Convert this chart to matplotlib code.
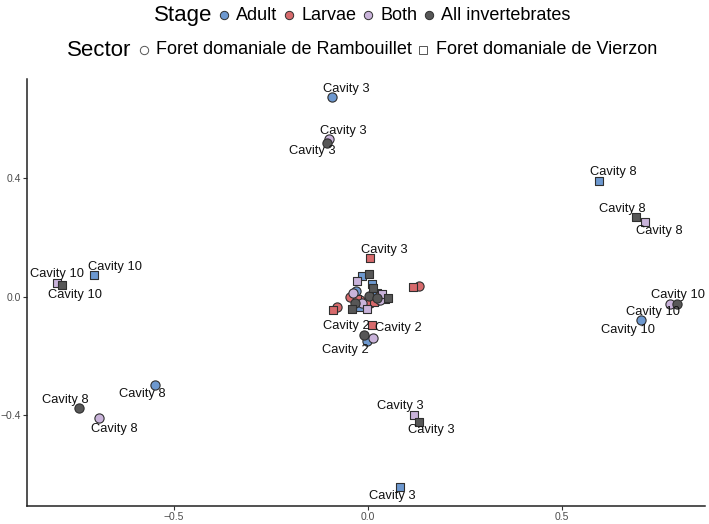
import numpy as np
import pandas as pd
import matplotlib
matplotlib.use("Agg")
from matplotlib import pyplot as plt
from matplotlib.lines import Line2D
from matplotlib.ticker import MultipleLocator

plt.rcParams['font.family'] = ['Liberation Sans', 'DejaVu Sans']

# Datos (NMDS)
stage = (["Adult"] * 15 + ["Larvae"] * 13 + ["Both"] * 13 + ["All invertebrates"] * 14)
sector = (
    # Adult
    ["R", "R", "R", "R", "R", "R", "R", "R", "V", "V", "V", "V", "V", "V", "V"]
    # Larvae
    + ["R", "R", "R", "R", "R", "R", "V", "V", "V", "V", "V", "V", "V"]
    # Both
    + ["R", "R", "R", "R", "R", "R", "R", "V", "V", "V", "V", "V", "V"]
    # All invertebrates
    + ["R", "R", "R", "R", "R", "R", "R", "V", "V", "V", "V", "V", "V", "V"]
)
nmds1 = [
    -0.092, 0.702, -0.549, -0.003, -0.042, -0.010, 0.020, -0.030,
    0.596, -0.706, 0.082, -0.016, 0.009, -0.021, 0.024,
    0.131, -0.081, -0.048, -0.020, 0.005, 0.030,
    0.005, 0.115, -0.091, 0.009, -0.029, 0.044, 0.014,
    -0.101, 0.778, -0.693, 0.012, -0.015, 0.030, -0.040,
    0.713, -0.802, 0.117, -0.029, 0.035, -0.003,
    -0.107, 0.796, -0.746, -0.010, 0.001, -0.035, 0.022,
    0.690, -0.789, 0.131, 0.003, 0.052, -0.042, 0.012,
]
nmds2 = [
    0.675, -0.077, -0.296, -0.150, 0.004, -0.030, -0.015, 0.020,
    0.390, 0.075, -0.642, 0.072, 0.044, -0.035, 0.012,
    0.038, -0.035, -0.001, -0.010, -0.020, 0.008,
    0.133, 0.033, -0.044, -0.096, -0.007, -0.007, -0.018,
    0.534, -0.024, -0.408, -0.137, -0.020, -0.010, 0.015,
    0.253, 0.047, -0.397, 0.055, 0.010, -0.040,
    0.520, -0.024, -0.375, -0.130, 0.004, -0.020, -0.005,
    0.270, 0.040, -0.421, 0.077, -0.004, -0.040, 0.029,
]
cavity = [
    "Cavity 3", "Cavity 10", "Cavity 8", "Cavity 2", "", "", "", "",
    "Cavity 8", "Cavity 10", "Cavity 3", "", "", "", "",
    "", "", "", "", "", "",
    "Cavity 3", "", "", "Cavity 2", "", "", "",
    "Cavity 3", "Cavity 10", "Cavity 8", "", "", "", "",
    "Cavity 8", "Cavity 10", "Cavity 3", "", "", "",
    "Cavity 3", "Cavity 10", "Cavity 8", "Cavity 2", "", "", "",
    "Cavity 8", "Cavity 10", "Cavity 3", "", "", "", "",
]

# desplazamiento de las etiquetas en pixeles (dx, dy hacia abajo)
desplazamiento = [
    (14, -8), (-13, 10), (-13, 9), (-22, 9), (0, 0), (0, 0), (0, 0), (0, 0),
    (14, -9), (21, -8), (-8, 9), (0, 0), (0, 0), (0, 0), (0, 0),
    (0, 0), (0, 0), (0, 0), (0, 0), (0, 0), (0, 0),
    (14, -8), (0, 0), (0, 0), (27, 3), (0, 0), (0, 0), (0, 0),
    (14, -8), (-17, 8), (15, 11), (0, 0), (0, 0), (0, 0), (0, 0),
    (14, 9), (0, -9), (-13, -8), (0, 0), (0, 0), (0, 0),
    (-14, 8), (1, -9), (-13, -8), (-18, -9), (0, 0), (0, 0), (0, 0),
    (-14, -8), (13, 10), (12, 8), (0, 0), (0, 0), (0, 0), (0, 0),
]

df = pd.DataFrame({"stage": stage, "sector": sector, "x": nmds1, "y": nmds2,
                   "label": cavity})

colores = {"Adult": "#6d98cf", "Larvae": "#d76a6c",
           "Both": "#c9b3da", "All invertebrates": "#575757"}
marcadores = {"R": "o", "V": "s"}
tamaños = {"R": 44, "V": 36}

fig = plt.figure(figsize=(7.09, 5.24), dpi=100)
ax = fig.add_axes([27 / 709, 18 / 524, 678 / 709, 427 / 524])

for st in colores:
    for sc in marcadores:
        d = df[(df.stage == st) & (df.sector == sc)]
        ax.scatter(d.x, d.y, s=tamaños[sc], marker=marcadores[sc],
                   c=colores[st], edgecolors="#2f2f2f", linewidths=0.8,
                   zorder=3)

for i, row in df.iterrows():
    if row.label:
        dx, dy = desplazamiento[i]
        ax.annotate(row.label, (row.x, row.y), xytext=(dx * 0.72, -dy * 0.72),
                    textcoords="offset points", ha="center", va="center",
                    fontsize=9.3, color="#111111", zorder=4)

ax.set_xlim(-0.879, 0.868)
ax.set_ylim(-0.706, 0.736)
ax.xaxis.set_major_locator(MultipleLocator(0.5))
ax.yaxis.set_major_locator(MultipleLocator(0.4))
for lado in ["top", "right"]:
    ax.spines[lado].set_visible(False)
for lado in ["left", "bottom"]:
    ax.spines[lado].set_linewidth(1.1)
    ax.spines[lado].set_color("#222222")
ax.tick_params(axis="both", labelsize=7.5, labelcolor="#4d4d4d",
               color="#333333", length=3, width=0.8, pad=1.5)

# Leyenda manual en dos filas
renderer = fig.canvas.get_renderer()
W = fig.bbox.width
H = fig.bbox.height


def fila_leyenda(y_px, titulo, entradas, centro=362):
    piezas = []
    t = fig.text(0, 0, titulo, fontsize=16, va="center", ha="left")
    piezas.append(("text", t, t.get_window_extent(renderer).width))
    for etiqueta, estilo in entradas:
        piezas.append(("marker", estilo, 0))
        t = fig.text(0, 0, etiqueta, fontsize=13, va="center", ha="left")
        piezas.append(("text", t, t.get_window_extent(renderer).width))
    ancho = 0
    for p in piezas:
        if p[0] == "text":
            ancho += p[2]
        else:
            ancho += 24
    x = centro - ancho / 2
    yf = 1 - y_px / H
    for p in piezas:
        if p[0] == "text":
            p[1].set_position((x / W, yf))
            x += p[2]
        else:
            m = Line2D([(x + 12) / W], [yf], transform=fig.transFigure,
                       linestyle="none", **p[1])
            fig.add_artist(m)
            x += 24


fila_leyenda(15, "Stage", [
    (k, dict(marker="o", markersize=6, markerfacecolor=v,
             markeredgecolor="#2f2f2f", markeredgewidth=0.7))
    for k, v in colores.items()])
fila_leyenda(50, "Sector", [
    ("Foret domaniale de Rambouillet",
     dict(marker="o", markersize=6, markerfacecolor="white",
          markeredgecolor="#555555", markeredgewidth=0.7)),
    ("Foret domaniale de Vierzon",
     dict(marker="s", markersize=6, markerfacecolor="white",
          markeredgecolor="#555555", markeredgewidth=0.7)),
])

fig.savefig("out.png", dpi=100)
